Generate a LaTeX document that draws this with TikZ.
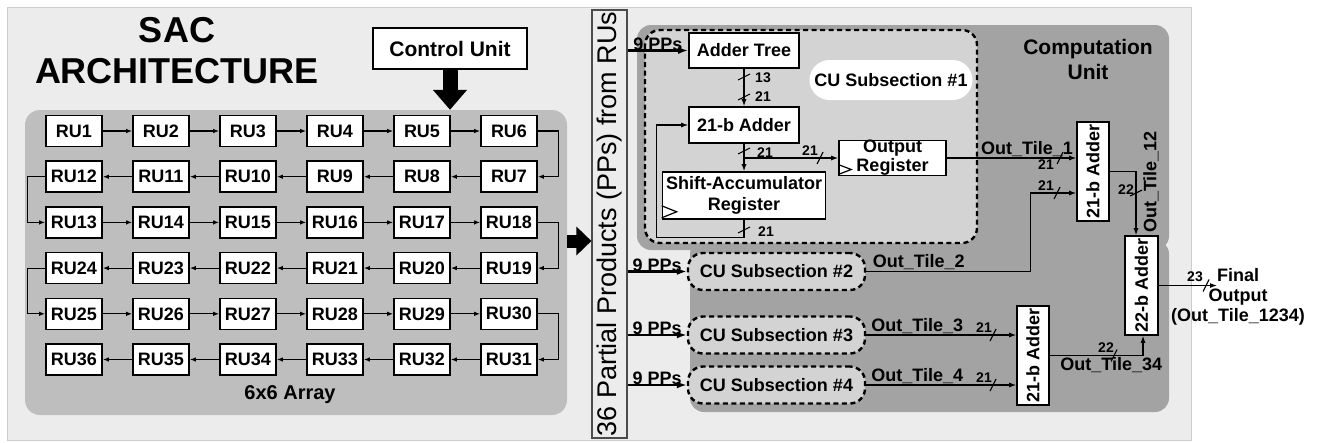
\documentclass[tikz,border=0pt]{standalone}
\usepackage{fontspec}
\setmainfont{Liberation Sans}
\usepackage{tikz}
\usetikzlibrary{arrows.meta}

\definecolor{sheet}{RGB}{236,236,236}
\definecolor{arraygray}{RGB}{190,190,190}
\definecolor{cugray}{RGB}{163,163,163}
\definecolor{subgray}{RGB}{211,211,211}

\begin{document}
\begin{tikzpicture}[x=1pt,y=-1pt,
  box/.style={draw, line width=1.6pt, fill=white, inner sep=0pt, font=\bfseries\fontsize{18}{20}\selectfont},
  ru/.style={box, minimum width=56pt, minimum height=31pt},
  link/.style={line width=1.2pt, -{Latex[length=6pt,width=4.5pt]}},
  sig/.style={line width=1.2pt, -{Latex[length=7pt,width=5pt]}},
  pp/.style={line width=2.6pt, -{Latex[length=10pt,width=7pt]}},
  fat/.style={line width=15pt, -{Triangle[width=33pt,length=20pt]}},
  sub/.style={draw, line width=2.4pt, dash pattern=on 5pt off 3.5pt, rounded corners=15pt, fill=subgray},
  lbl/.style={inner sep=1pt, font=\bfseries\fontsize{18}{20}\selectfont},
  wl/.style={inner sep=0pt, font=\bfseries\fontsize{14}{14}\selectfont},
  bus/.pic={\draw[line width=1.1pt] (-3,6) -- (3,-6);},
  vbus/.pic={\draw[line width=1.1pt] (-6,3) -- (6,-3);}
]

\useasboundingbox (0,0) rectangle (1317,442);

% sheet
\draw[fill=sheet, draw=black!20, line width=1pt] (7,7) rectangle (1191,440);

% 6x6 array of RUs
\node[fill=arraygray, rounded corners=15pt, minimum width=542pt, minimum height=305pt, inner sep=0pt] (array) at (296,262.5) {};
\node[lbl, font=\bfseries\fontsize{20}{22}\selectfont] (arraytxt) at (290,395) {6x6 Array};

\node[align=center, inner sep=0pt, font=\bfseries\fontsize{36}{41}\selectfont] (title) at (177,51) {SAC\\ARCHITECTURE};

\node[box, minimum width=154pt, minimum height=41pt, font=\bfseries\fontsize{21}{24}\selectfont] (ctrl) at (450,48.5) {Control Unit};
\draw[fat] (ctrl.south) -- (ctrl |- array.north);

\foreach \r in {0,...,5}
  \foreach \c in {0,...,5}{
    \pgfmathtruncatemacro\idx{mod(\r,2)==1 ? 6*\r+6-\c : 6*\r+\c+1}
    \node[ru] (ru\idx) at (74+87*\c, 131+45.7*\r) {RU\idx};
  }

\foreach \n in {1,...,35}{
  \pgfmathtruncatemacro\nxt{\n+1}
  \pgfmathtruncatemacro\rowend{mod(\n,12)}
  \ifnum\rowend=6
    \draw[link] (ru\n.east) -- ++(21,0) |- (ru\nxt.east);
  \else\ifnum\rowend=0
    \draw[link] (ru\n.west) -- ++(-18,0) |- (ru\nxt.west);
  \else
    \draw[link] (ru\n) -- (ru\nxt);
  \fi\fi
}

% partial products column
\node[draw=black!70, line width=1.2pt, fill=sheet, minimum width=35pt, minimum height=428pt, inner sep=0pt, font=\fontsize{27}{27}\selectfont] (col) at (609.5,224) {\rotatebox{90}{36 Partial Products (PPs) from RUs}};
\draw[fat, line width=13pt, -{Triangle[width=28pt,length=15pt]}] (array.east |- 0,241) -- (col.west |- 0,241);

% computation unit
\fill[cugray, rounded corners=14pt] (637,25) rectangle (1169,250);
\fill[cugray, rounded corners=14pt] (690,240) rectangle (1169,412);
\node[align=center, inner sep=0pt, font=\bfseries\fontsize{21}{25}\selectfont] (cutitle) at (1088,59) {Computation\\Unit};

% subsection 1
\draw[sub] (645,30) rectangle (977,243);
\node[fill=white, rounded corners=20pt, minimum width=163pt, minimum height=40pt, inner sep=0pt, font=\bfseries\fontsize{18}{20}\selectfont] (sub1) at (891,80) {CU Subsection \#1};

\node[box, minimum width=110pt, minimum height=35pt] (tree) at (744,50.5) {Adder Tree};
\node[box, minimum width=110pt, minimum height=36pt] (add1) at (744,125) {21-b Adder};
\node[box, minimum width=163pt, minimum height=47pt, align=center, font=\bfseries\fontsize{18}{21}\selectfont] (acc) at (744,195.5) {Shift-Accumulator\\Register};
\node[box, minimum width=107pt, minimum height=34pt, align=center, font=\bfseries\fontsize{18}{19}\selectfont] (oreg) at (892.5,158) {Output\\Register};
\draw[line width=1.2pt] (acc.south west) ++(0,-2) -- ++(15,-6) -- ++(-15,-6);
\draw[line width=1.2pt] (oreg.south west) ++(0,-2) -- ++(13,-5) -- ++(-13,-5);

\draw[pp] (col.east |- tree) -- node[lbl, above=-2pt] {9 PPs} (tree.west);
\draw[sig] (tree) -- (add1);
\draw[sig] (add1.south) -- (add1.south |- acc.north);
\draw[sig] (add1.south |- oreg.west) -- (oreg.west);
\draw[sig] (acc.south) -- ++(0,18) -| ([xshift=-32pt]add1.west) -- (add1.west);
\pic at (744,77) {vbus};  \node[wl] at (763,78) {13};
\pic at (744,97) {vbus};  \node[wl] at (763,97) {21};
\pic at (744,151) {vbus}; \node[wl] at (765,153) {21};
\pic at (820,158) {bus};  \node[wl] at (810,151) {21};
\pic at (744,230) {vbus}; \node[wl] at (766,232) {21};

% subsections 2 to 4
\node[sub, minimum width=177pt, minimum height=37pt, inner sep=0pt, font=\bfseries\fontsize{18}{20}\selectfont] (sub2) at (776.5,271.5) {CU Subsection \#2};
\node[sub, minimum width=177pt, minimum height=37pt, inner sep=0pt, font=\bfseries\fontsize{18}{20}\selectfont] (sub3) at (776.5,335) {CU Subsection \#3};
\node[sub, minimum width=177pt, minimum height=37pt, inner sep=0pt, font=\bfseries\fontsize{18}{20}\selectfont] (sub4) at (776.5,385) {CU Subsection \#4};
\draw[pp] (col.east |- sub2) -- node[lbl, above=-2pt] {9 PPs} (sub2.west);
\draw[pp] (col.east |- sub3) -- node[lbl, above=-2pt] {9 PPs} (sub3.west);
\draw[pp] (col.east |- sub4) -- node[lbl, above=-2pt] {9 PPs} (sub4.west);

% adders
\node[box, minimum width=32pt, minimum height=99pt] (add12) at (1093,171.5) {\rotatebox{90}{21-b Adder}};
\node[box, minimum width=32pt, minimum height=99pt] (add34) at (1033,355.5) {\rotatebox{90}{21-b Adder}};
\node[box, minimum width=33pt, minimum height=99pt] (add22) at (1141.5,285.5) {\rotatebox{90}{22-b Adder}};

\draw[sig] (oreg.east) -- node[lbl, above, pos=0.62] {Out\_Tile\_1} (oreg.east -| add12.west);
\draw[sig] (sub2.east) -- node[lbl, above, pos=0.32] {Out\_Tile\_2} ++(164,0) |- (add12.west |- 0,193);
\draw[sig] (sub3.east) -- node[lbl, above, pos=0.34] {Out\_Tile\_3} (sub3.east -| add34.west);
\draw[sig] (sub4.east) -- node[lbl, above, pos=0.34] {Out\_Tile\_4} (sub4.east -| add34.west);
\draw[sig] (add12.east) -| ([xshift=-5.5pt]add22.north);
\draw[sig] (add34.east) -| node[lbl, below, pos=0.33] {Out\_Tile\_34} ([xshift=1.5pt]add22.south);
\node[lbl, rotate=90] (t12) at (1151,182) {Out\_Tile\_12};

\pic at (1060,158) {bus};  \node[wl] at (1046,165) {21};
\pic at (1057,193) {bus};  \node[wl] at (1046,186) {21};
\pic at (1136,193) {vbus}; \node[wl] at (1126,190) {22};
\pic at (993,335) {bus};   \node[wl] at (984,328) {21};
\pic at (993,385) {bus};   \node[wl] at (984,378) {21};
\pic at (1114,355.5) {bus}; \node[wl] at (1106,348) {22};
\pic at (1206,285.5) {bus}; \node[wl] at (1195,277) {23};

% final output
\coordinate (fin) at (1217,285.5);
\draw[sig] (add22.east) -- (fin);
\node[lbl, align=center] (final) at (1238,297) {Final\\Output\\(Out\_Tile\_1234)};

\end{tikzpicture}
\end{document}
